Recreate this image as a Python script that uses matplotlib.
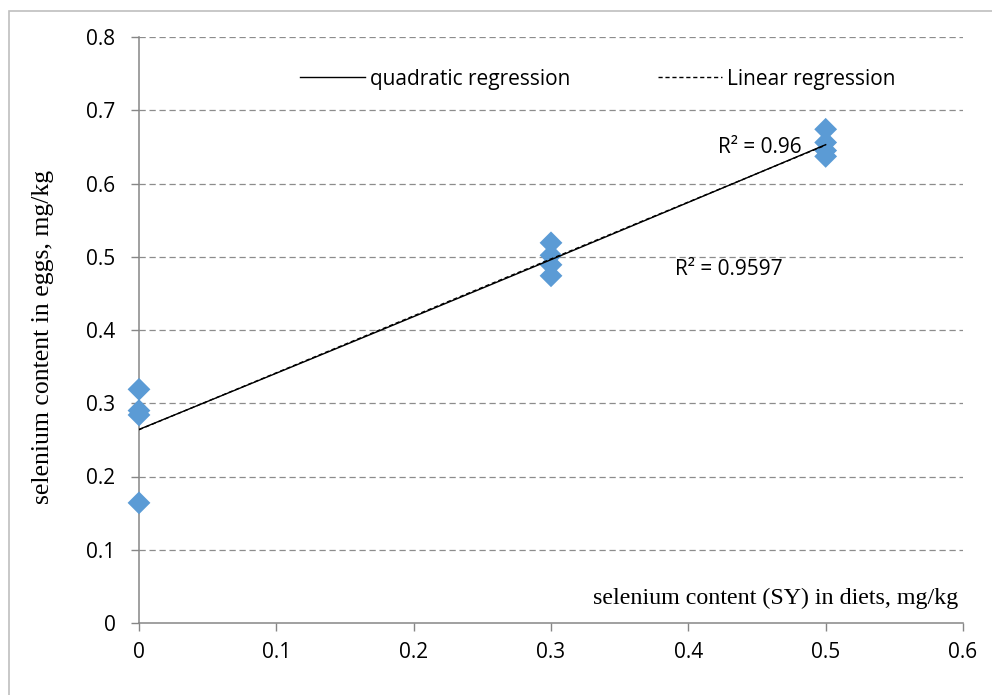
import numpy as np
import matplotlib
matplotlib.use("Agg")
import matplotlib.pyplot as plt
from matplotlib.lines import Line2D
from matplotlib.patches import Rectangle

# data
dose_sy = [0, 0, 0, 0, 0.3, 0.3, 0.3, 0.3, 0.5, 0.5, 0.5, 0.5]
se_eggs = [0.319, 0.290, 0.284, 0.164,
           0.519, 0.502, 0.489, 0.474,
           0.674, 0.656, 0.645, 0.637]
r2_quadratic = "R² = 0.96"
r2_linear = "R² = 0.9597"
x_ticks = [0, 0.1, 0.2, 0.3, 0.4, 0.5, 0.6]
y_ticks = [0, 0.1, 0.2, 0.3, 0.4, 0.5, 0.6, 0.7, 0.8]

tick_font = "Open Sans"
label_font = "Liberation Serif"
axis_gray = "#868686"

fig = plt.figure(figsize=(9.92, 6.95), dpi=100)
ax = fig.add_axes([139 / 992, 1 - 623 / 695, (963 - 139) / 992, (623 - 37) / 695])

# outer chart border (runs off right and bottom edge)
fig.patches.append(Rectangle((9 / 992, -0.1), 1.2, 1 - 11 / 695 + 0.1,
                             transform=fig.transFigure, fill=False,
                             edgecolor="#bfbfbf", linewidth=1.2))

# horizontal dashed gridlines
for yv in y_ticks[1:]:
    ax.axhline(yv, color="#8c8c8c", linewidth=0.9, linestyle=(0, (5, 3)), zorder=1)

# regressions fitted from the points
xs = np.linspace(0, 0.5, 100)
x_arr = np.array(dose_sy)
y_arr = np.array(se_eggs)
lin = np.polyfit(x_arr, y_arr, 1)
quad = np.polyfit(x_arr, y_arr, 2)

ax.scatter(dose_sy, se_eggs, marker="D", s=135, color="#5b9bd5",
           edgecolors="none", zorder=3, clip_on=False)
ax.plot(xs, np.polyval(quad, xs), color="black", linewidth=1.0, zorder=4)
ax.plot(xs, np.polyval(lin, xs), color="black", linewidth=1.0,
        linestyle=(0, (3, 2)), zorder=4)

ax.set_xlim(0, 0.6)
ax.set_ylim(0, 0.8)
ax.set_xticks(x_ticks)
ax.set_yticks(y_ticks)
ax.set_xticklabels([f"{v:g}" for v in x_ticks], fontfamily=tick_font, fontsize=15)
ax.set_yticklabels([f"{v:g}" for v in y_ticks], fontfamily=tick_font, fontsize=15)
ax.tick_params(axis="x", direction="out", length=6, width=1, color=axis_gray, pad=8)
ax.tick_params(axis="y", direction="out", length=6, width=1, color=axis_gray, pad=11)

for side in ["top", "right"]:
    ax.spines[side].set_visible(False)
for side in ["left", "bottom"]:
    ax.spines[side].set_color(axis_gray)
    ax.spines[side].set_linewidth(1.1)

# legend
handles = [Line2D([], [], color="black", linewidth=1.0),
           Line2D([], [], color="black", linewidth=1.0, linestyle=(0, (3, 2)))]
ax.legend(handles, ["quadratic regression", "Linear regression"], ncol=2,
          loc="center left", bbox_to_anchor=((300 - 139) / 824, 1 - 42 / 586),
          frameon=False, borderpad=0, borderaxespad=0, handlelength=3.1,
          handletextpad=0.25, columnspacing=4.2,
          prop={"family": tick_font, "size": 15})

# R² annotations
ax.text(0.4217, 0.6485, r2_quadratic, fontfamily=tick_font, fontsize=15, va="center")
ax.text(0.3904, 0.482, r2_linear, fontfamily=tick_font, fontsize=15, va="center")

# axis titles
ax.text((958 - 139) / 824, (623 - 598) / 586, "selenium content (SY) in diets, mg/kg",
        fontfamily=label_font, fontsize=17.3, ha="right", va="center",
        transform=ax.transAxes)
fig.text(43 / 992, 1 - 337 / 695, "selenium content in eggs, mg/kg", fontfamily=label_font,
         fontsize=18.5, rotation=90, ha="center", va="center")

fig.savefig("out.png", dpi=100)
